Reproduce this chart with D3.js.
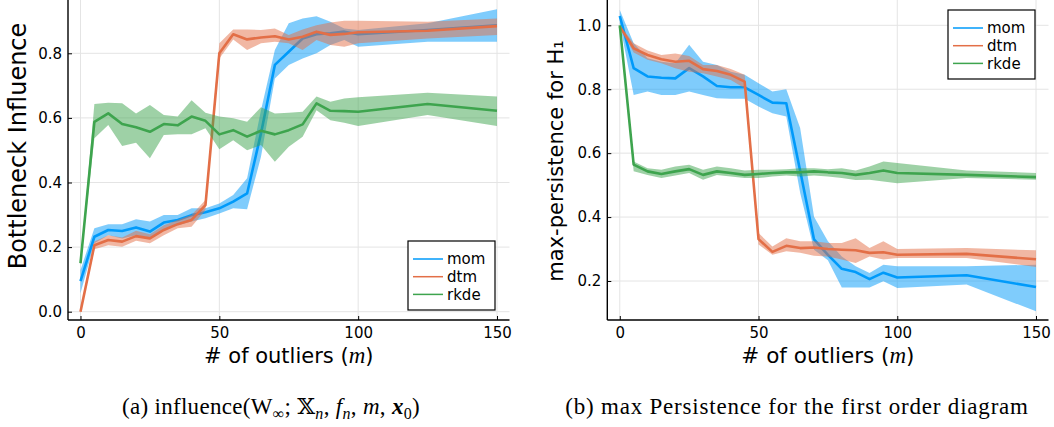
<!DOCTYPE html>
<html>
<head>
<meta charset="utf-8">
<script src="https://cdnjs.cloudflare.com/ajax/libs/d3/7.8.5/d3.min.js"></script>
<style>
  body { margin: 0; background: #fff; }
  svg { display: block; }
  text { font-family: "DejaVu Sans", sans-serif; fill: #000; }
</style>
</head>
<body>
<svg width="1054" height="427"></svg>
<script>
// number of outliers
var outliers = [0,5,10,15,20,25,30,35,40,45,50,55,60,65,70,75,80,85,90,95,100,125,150];

// (a) bottleneck influence
var infMom    = [0.095,0.232,0.253,0.250,0.261,0.248,0.276,0.284,0.299,0.308,0.320,0.341,0.366,0.552,0.764,0.805,0.846,0.859,0.862,0.867,0.859,0.872,0.887];
var infMomLo  = [0.057,0.212,0.237,0.227,0.237,0.230,0.255,0.268,0.279,0.289,0.304,0.320,0.317,0.480,0.722,0.764,0.784,0.800,0.826,0.841,0.820,0.836,0.836];
var infMomHi  = [0.129,0.258,0.271,0.271,0.286,0.279,0.299,0.299,0.320,0.320,0.335,0.361,0.413,0.624,0.810,0.893,0.908,0.915,0.898,0.877,0.872,0.893,0.936];
var infDtm    = [0.000,0.206,0.222,0.217,0.234,0.227,0.253,0.271,0.284,0.330,0.800,0.859,0.843,0.849,0.853,0.843,0.851,0.867,0.857,0.860,0.865,0.870,0.884];
var infDtmLo  = [-0.005,0.193,0.206,0.201,0.220,0.212,0.237,0.258,0.263,0.315,0.784,0.843,0.810,0.831,0.836,0.831,0.810,0.841,0.826,0.820,0.831,0.846,0.857];
var infDtmHi  = [0.005,0.217,0.237,0.230,0.251,0.240,0.268,0.284,0.299,0.346,0.831,0.874,0.874,0.872,0.877,0.857,0.874,0.887,0.895,0.901,0.901,0.898,0.908];
var infRkde   = [0.150,0.588,0.614,0.581,0.571,0.557,0.581,0.577,0.604,0.591,0.549,0.562,0.542,0.560,0.549,0.562,0.580,0.645,0.622,0.621,0.619,0.643,0.622];
var infRkdeLo = [0.145,0.537,0.578,0.513,0.523,0.475,0.547,0.549,0.549,0.568,0.503,0.531,0.500,0.516,0.464,0.511,0.542,0.624,0.593,0.585,0.575,0.609,0.575];
var infRkdeHi = [0.155,0.643,0.647,0.645,0.614,0.640,0.609,0.604,0.655,0.616,0.604,0.599,0.588,0.633,0.614,0.616,0.619,0.666,0.650,0.660,0.664,0.678,0.666];

// (b) max persistence for H1
var perMom    = [1.029,0.866,0.840,0.836,0.834,0.866,0.840,0.810,0.806,0.806,0.782,0.758,0.756,0.545,0.330,0.282,0.238,0.228,0.206,0.226,0.211,0.218,0.181];
var perMomLo  = [1.006,0.782,0.793,0.782,0.782,0.793,0.782,0.772,0.770,0.770,0.746,0.725,0.715,0.476,0.298,0.265,0.180,0.180,0.180,0.199,0.178,0.189,0.105];
var perMomHi  = [1.048,0.944,0.897,0.886,0.881,0.939,0.886,0.876,0.855,0.845,0.819,0.793,0.800,0.679,0.401,0.324,0.277,0.246,0.225,0.251,0.246,0.246,0.251];
var perDtm    = [0.996,0.928,0.907,0.894,0.886,0.889,0.863,0.857,0.845,0.824,0.331,0.291,0.310,0.303,0.305,0.300,0.298,0.296,0.288,0.290,0.282,0.285,0.268];
var perDtmLo  = [0.992,0.915,0.892,0.881,0.866,0.855,0.850,0.840,0.829,0.803,0.314,0.282,0.293,0.288,0.279,0.277,0.267,0.256,0.277,0.267,0.272,0.272,0.244];
var perDtmHi  = [1.000,0.944,0.921,0.907,0.912,0.904,0.876,0.876,0.863,0.845,0.350,0.308,0.334,0.324,0.324,0.319,0.319,0.334,0.303,0.324,0.300,0.303,0.296];
var perRkde   = [1.000,0.564,0.543,0.535,0.543,0.550,0.532,0.543,0.538,0.532,0.535,0.538,0.540,0.540,0.543,0.540,0.538,0.532,0.538,0.546,0.538,0.532,0.525];
var perRkdeLo = [0.996,0.543,0.532,0.522,0.530,0.538,0.517,0.532,0.527,0.522,0.522,0.527,0.530,0.527,0.530,0.527,0.522,0.516,0.517,0.511,0.506,0.522,0.517];
var perRkdeHi = [1.004,0.574,0.553,0.548,0.558,0.564,0.548,0.558,0.553,0.546,0.548,0.548,0.550,0.553,0.553,0.550,0.553,0.546,0.558,0.574,0.569,0.546,0.538];

var names = ["mom","dtm","rkde"];
var colors = ["#009afa","#e36f47","#3ea44e"];
var xTicks = [0,50,100,150];
var infTicks = [0.0,0.2,0.4,0.6,0.8];
var perTicks = [0.2,0.4,0.6,0.8,1.0];

var svg = d3.select("svg");

var drawPanel = function(p)
{
  var g = svg.append("g");

  var xScale = d3.scaleLinear().domain([-4.5,154.5]).range([p.left,p.right]);
  var yScale = d3.scaleLinear().domain(p.yDomain).range(p.yRange);

  // grid
  g.selectAll(".xgrid").data(xTicks).enter().append("line")
    .attr("x1",function(d){return xScale(d);})
    .attr("x2",function(d){return xScale(d);})
    .attr("y1",p.top).attr("y2",p.bottom)
    .attr("stroke","#e4e4e4").attr("stroke-width",1);

  g.selectAll(".ygrid").data(p.yTicks).enter().append("line")
    .attr("x1",p.left).attr("x2",p.right)
    .attr("y1",function(d){return yScale(d);})
    .attr("y2",function(d){return yScale(d);})
    .attr("stroke","#e4e4e4").attr("stroke-width",1);

  var clipId = "clip"+p.id;
  svg.append("clipPath").attr("id",clipId).append("rect")
    .attr("x",p.left).attr("y",p.top)
    .attr("width",p.right-p.left).attr("height",p.bottom-p.top);

  var plot = g.append("g").attr("clip-path","url(#"+clipId+")");

  p.series.forEach(function(s,k)
  {
    var pts = outliers.map(function(x,i){return {x:x, m:s[0][i], lo:s[1][i], hi:s[2][i]};});

    var area = d3.area()
      .x(function(d){return xScale(d.x);})
      .y0(function(d){return yScale(d.lo);})
      .y1(function(d){return yScale(d.hi);});

    var line = d3.line()
      .x(function(d){return xScale(d.x);})
      .y(function(d){return yScale(d.m);});

    plot.append("path").datum(pts)
      .attr("d",area)
      .attr("fill",colors[k])
      .attr("fill-opacity",0.5);

    plot.append("path").datum(pts)
      .attr("d",line)
      .attr("fill","none")
      .attr("stroke",colors[k])
      .attr("stroke-width",2.6)
      .attr("stroke-linejoin","round");
  });

  // axes
  var xAxis = d3.axisBottom(xScale).tickValues(xTicks).tickFormat(d3.format("d"))
    .tickSizeInner(-4).tickSizeOuter(0).tickPadding(7);
  var yAxis = d3.axisLeft(yScale).tickValues(p.yTicks).tickFormat(d3.format(".1f"))
    .tickSizeInner(-4).tickSizeOuter(0).tickPadding(6);

  var gx = g.append("g").attr("transform","translate(0,"+p.bottom+")").call(xAxis);
  var gy = g.append("g").attr("transform","translate("+p.left+",0)").call(yAxis);

  [gx,gy].forEach(function(a)
  {
    a.select(".domain").remove();
    a.selectAll("text").style("font-size","15px").style("font-family","DejaVu Sans");
    a.selectAll("line").attr("stroke","#000").attr("stroke-width",1);
  });

  g.append("line").attr("x1",p.left).attr("x2",p.left).attr("y1",p.top).attr("y2",p.bottom)
    .attr("stroke","#000").attr("stroke-width",1.4);
  g.append("line").attr("x1",p.left).attr("x2",p.right).attr("y1",p.bottom).attr("y2",p.bottom)
    .attr("stroke","#000").attr("stroke-width",1.4);

  // x label
  var xl = g.append("text")
    .attr("x",(p.left+p.right)/2).attr("y",363)
    .attr("text-anchor","middle")
    .style("font-size",p.xLabelSize);
  xl.append("tspan").text("# of outliers (");
  xl.append("tspan").text("m").style("font-family","Liberation Serif, serif").style("font-style","italic").style("font-size","23px");
  xl.append("tspan").text(")");

  // y label
  g.append("text")
    .attr("transform","translate("+p.yLabelX+","+p.yLabelY+") rotate(-90)")
    .attr("text-anchor","middle")
    .style("font-size",p.yLabelSize)
    .text(p.yLabel);

  // legend
  var lg = g.append("g").attr("transform","translate("+p.legend[0]+","+p.legend[1]+")");
  lg.append("rect").attr("width",87).attr("height",69)
    .attr("fill","#fff").attr("stroke","#000").attr("stroke-width",1.2);
  names.forEach(function(n,k)
  {
    var yy = 18 + k*17.7;
    lg.append("line").attr("x1",5).attr("x2",35).attr("y1",yy).attr("y2",yy)
      .attr("stroke",colors[k]).attr("stroke-width",1.5);
    lg.append("text").attr("x",39).attr("y",yy).attr("dy","0.35em")
      .style("font-size","15px").text(n);
  });

  // caption
  var cap = svg.append("text")
    .attr("x",p.capX).attr("y",414)
    .attr("text-anchor","middle")
    .style("font-family","Liberation Serif, DejaVu Serif, serif")
    .style("font-size","23px")
    .style("letter-spacing",p.capSpacing);
  p.caption.forEach(function(r)
  {
    var t = cap.append("tspan").text(r.t);
    if (r.sub) { t.attr("dy",5).style("font-size","16px"); }
    if (r.back) { t.attr("dy",-5); }
    if (r.it) { t.style("font-style","italic"); }
    if (r.bf) { t.style("font-style","italic").style("font-weight","bold"); }
  });
}

drawPanel({
  id: "a", left: 68, right: 509.5, top: 0, bottom: 320,
  yDomain: [0,0.8], yRange: [311.7,53.3], yTicks: infTicks,
  series: [[infMom,infMomLo,infMomHi],[infDtm,infDtmLo,infDtmHi],[infRkde,infRkdeLo,infRkdeHi]],
  yLabel: "Bottleneck Influence", yLabelX: 26, yLabelY: 146, yLabelSize: "24px",
  xLabelSize: "21px",
  legend: [408,241], capX: 271, capSpacing: "0.3px",
  caption: [
    {t:"(a) influence(W"},{t:"\u221e",sub:true},{t:"; \ud835\udd4f",back:true},{t:"n",sub:true,it:true},
    {t:", ",back:true},{t:"f",it:true},{t:"n",sub:true,it:true},{t:", ",back:true},{t:"m",it:true},
    {t:", "},{t:"x",bf:true},{t:"0",sub:true},{t:")",back:true}
  ]
});

drawPanel({
  id: "b", left: 607.3, right: 1048.5, top: 0, bottom: 320,
  yDomain: [0.2,1.0], yRange: [281,25.3], yTicks: perTicks,
  series: [[perMom,perMomLo,perMomHi],[perDtm,perDtmLo,perDtmHi],[perRkde,perRkdeLo,perRkdeHi]],
  yLabel: "max-persistence for H\u2081", yLabelX: 563, yLabelY: 161, yLabelSize: "21px",
  xLabelSize: "21.5px",
  legend: [948,10], capX: 797, capSpacing: "0.8px",
  caption: [{t:"(b) max Persistence for the first order diagram"}]
});
</script>
</body>
</html>
